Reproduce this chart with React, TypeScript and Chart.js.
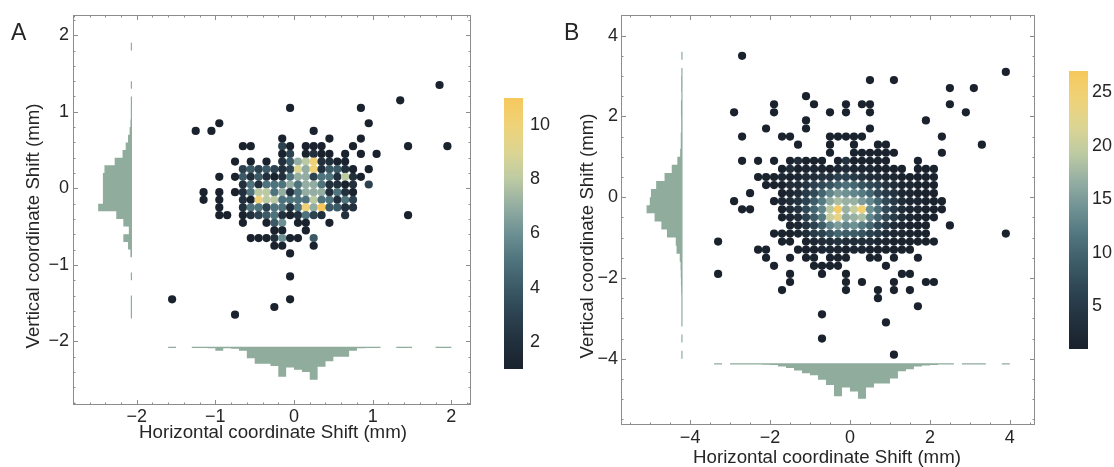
import React, { useEffect, useRef } from 'react';
import { Chart, registerables } from 'chart.js';

Chart.register(...registerables);

const FONT = '"Liberation Sans", Arial, Helvetica, sans-serif';
const TEXT_COLOR = '#262626';
const HIST_COLOR = '#8fac9d';
const FRAME_COLOR = '#8c8c8c';

// ---------------- colour map (count -> colour) ----------------
const cmapStops = [0, 0.1, 0.2, 0.3, 0.4, 0.5, 0.6, 0.7, 0.8, 0.9, 1];
const cmapColors = ['#19222d', '#22303d', '#2c4250', '#3b5a66', '#4f737c', '#6d9093', '#93ada2', '#bccaa3', '#dcd593', '#efd278', '#f6c85c'];

// ---------------- Panel A ----------------
const aCols = [-1.15, -1.05, -0.95, -0.85, -0.75, -0.65, -0.55, -0.45, -0.35, -0.25, -0.15, -0.05, 0.05, 0.15, 0.25, 0.35, 0.45, 0.55, 0.65, 0.75, 0.85, 0.95, 1.05];
const aRows = [0.65, 0.55, 0.45, 0.35, 0.25, 0.15, 0.05, -0.05, -0.15, -0.25, -0.35, -0.45, -0.55, -0.65, -0.75, -0.85];
const aCounts = [
  [0, 0, 0, 0, 0, 0, 0, 0, 0, 0, 1, 0, 0, 0, 0, 0, 1, 0, 0, 0, 1, 0, 0],
  [0, 0, 0, 0, 0, 1, 1, 0, 0, 0, 3, 1, 0, 1, 1, 1, 0, 0, 0, 1, 0, 0, 0],
  [0, 0, 0, 0, 0, 0, 0, 0, 0, 0, 1, 3, 0, 1, 2, 1, 1, 0, 1, 0, 1, 0, 1],
  [0, 0, 0, 0, 1, 0, 1, 0, 1, 0, 2, 4, 7, 8, 10, 2, 2, 1, 1, 0, 0, 0, 0],
  [0, 0, 0, 0, 0, 3, 4, 3, 4, 3, 2, 3, 9, 7, 10, 2, 4, 4, 2, 1, 0, 1, 0],
  [0, 0, 1, 0, 1, 4, 2, 4, 2, 1, 2, 5, 7, 7, 3, 5, 5, 2, 8, 2, 1, 0, 0],
  [0, 0, 0, 0, 0, 2, 5, 2, 5, 5, 5, 7, 5, 7, 7, 5, 2, 2, 1, 2, 0, 3, 0],
  [1, 0, 1, 0, 1, 2, 5, 8, 8, 5, 7, 2, 5, 7, 7, 7, 2, 5, 2, 1, 0, 0, 0],
  [1, 0, 1, 0, 0, 2, 1, 10, 8, 8, 5, 5, 5, 5, 8, 5, 5, 2, 5, 3, 0, 0, 0],
  [0, 0, 1, 0, 0, 2, 5, 5, 3, 5, 5, 2, 5, 10, 7, 11, 4, 4, 2, 2, 0, 0, 0],
  [0, 0, 1, 1, 0, 1, 2, 3, 4, 5, 2, 1, 2, 5, 3, 2, 0, 0, 2, 0, 0, 0, 0],
  [0, 0, 0, 0, 0, 1, 0, 0, 1, 4, 6, 0, 1, 1, 0, 0, 1, 0, 0, 0, 0, 0, 0],
  [0, 0, 0, 0, 0, 0, 0, 0, 0, 1, 1, 0, 0, 1, 0, 0, 0, 0, 0, 0, 0, 0, 0],
  [0, 0, 0, 0, 0, 0, 1, 1, 1, 2, 6, 1, 1, 0, 4, 0, 0, 0, 0, 0, 0, 0, 0],
  [0, 0, 0, 0, 0, 0, 0, 0, 0, 1, 1, 0, 0, 0, 1, 0, 0, 0, 0, 0, 0, 0, 0],
  [0, 0, 0, 0, 0, 0, 0, 0, 0, 0, 0, 1, 0, 0, 0, 0, 0, 0, 0, 0, 0, 0, 0],
];
// isolated cells: [x, y, count]
const aOutliers = [
  [1.85, 1.35, 1], [1.35, 1.15, 1], [-0.05, 1.05, 1], [0.85, 1.05, 1], [-0.95, 0.85, 1], [0.95, 0.85, 1],
  [-1.25, 0.75, 1], [-1.05, 0.75, 1], [0.25, 0.75, 1], [1.45, 0.55, 1], [1.95, 0.55, 1], [1.45, -0.35, 1],
  [-0.05, -1.15, 1], [-0.05, -1.45, 1], [-1.55, -1.45, 1], [-0.25, -1.55, 1], [-0.75, -1.65, 1],
];
const aHistLeftY = [1.85, 1.35, 1.15, 1.05, 0.95, 0.85, 0.75, 0.65, 0.55, 0.45, 0.35, 0.25, 0.15, 0.05, -0.05, -0.15, -0.25, -0.35, -0.45, -0.55, -0.65, -0.75, -0.85, -1.15, -1.45, -1.55, -1.65];
const aHistLeftLen = [0.015, 0.015, 0.015, 0.015, 0.015, 0.02, 0.03, 0.05, 0.08, 0.12, 0.22, 0.35, 0.37, 0.37, 0.37, 0.37, 0.43, 0.2, 0.11, 0.04, 0.11, 0.05, 0.02, 0.015, 0.015, 0.015, 0.015];
const aHistBottomX = [-1.55, -1.25, -1.15, -1.05, -0.95, -0.85, -0.75, -0.65, -0.55, -0.45, -0.35, -0.25, -0.15, -0.05, 0.05, 0.15, 0.25, 0.35, 0.45, 0.55, 0.65, 0.75, 0.85, 0.95, 1.05, 1.35, 1.45, 1.85, 1.95];
const aHistBottomLen = [0.015, 0.015, 0.015, 0.02, 0.05, 0.02, 0.025, 0.05, 0.15, 0.22, 0.22, 0.25, 0.39, 0.27, 0.3, 0.33, 0.43, 0.26, 0.19, 0.13, 0.13, 0.05, 0.02, 0.015, 0.015, 0.015, 0.015, 0.015, 0.015];
const aXTicks = [-2, -1, 0, 1, 2];
const aYTicks = [-2, -1, 0, 1, 2];
const aBarTicks = [2, 4, 6, 8, 10];

// ---------------- Panel B ----------------
const bCols = [-2.3, -2.1, -1.9, -1.7, -1.5, -1.3, -1.1, -0.9, -0.7, -0.5, -0.3, -0.1, 0.1, 0.3, 0.5, 0.7, 0.9, 1.1, 1.3, 1.5, 1.7, 1.9, 2.1, 2.3];
const bRows = [1.1, 0.9, 0.7, 0.5, 0.3, 0.1, -0.1, -0.3, -0.5, -0.7, -0.9, -1.1, -1.3, -1.5, -1.7];
const bCounts = [
  [0, 0, 0, 0, 0, 0, 0, 0, 0, 1, 0, 0, 1, 1, 1, 1, 1, 1, 0, 0, 0, 0, 0, 1],
  [1, 0, 1, 0, 1, 3, 1, 1, 1, 0, 1, 4, 1, 1, 1, 1, 1, 0, 0, 0, 1, 0, 0, 0],
  [0, 0, 0, 1, 3, 1, 2, 2, 2, 1, 2, 3, 2, 2, 2, 1, 1, 1, 1, 0, 1, 1, 1, 0],
  [1, 1, 1, 2, 1, 2, 3, 3, 4, 4, 6, 6, 5, 4, 3, 3, 2, 2, 1, 1, 1, 1, 1, 0],
  [0, 1, 1, 1, 3, 3, 4, 6, 7, 8, 10, 11, 10, 8, 7, 6, 4, 3, 2, 2, 1, 1, 1, 0],
  [0, 0, 0, 1, 2, 3, 5, 7, 10, 13, 15, 14, 13, 12, 10, 7, 5, 4, 2, 2, 1, 1, 1, 0],
  [0, 0, 1, 2, 3, 4, 6, 9, 12, 16, 18, 17, 17, 15, 13, 10, 7, 5, 3, 2, 2, 1, 1, 1],
  [0, 0, 0, 1, 3, 4, 7, 10, 13, 19, 26, 17, 20, 25, 14, 11, 7, 5, 3, 2, 2, 1, 1, 1],
  [0, 0, 0, 1, 2, 3, 6, 9, 12, 20, 23, 16, 17, 18, 13, 10, 7, 5, 3, 2, 1, 1, 1, 0],
  [0, 0, 0, 0, 1, 2, 4, 6, 9, 13, 15, 13, 14, 12, 10, 7, 5, 3, 2, 1, 1, 1, 0, 0],
  [0, 0, 1, 1, 1, 2, 3, 5, 6, 8, 10, 9, 9, 8, 6, 5, 3, 2, 2, 1, 1, 1, 0, 0],
  [0, 0, 0, 1, 1, 0, 1, 2, 3, 3, 4, 3, 3, 3, 3, 2, 2, 1, 1, 1, 1, 1, 1, 0],
  [1, 1, 0, 0, 0, 1, 1, 1, 2, 2, 2, 1, 2, 2, 1, 1, 1, 1, 1, 1, 0, 0, 0, 0],
  [0, 1, 0, 0, 1, 0, 1, 1, 0, 1, 1, 1, 0, 0, 1, 1, 0, 1, 0, 0, 1, 0, 0, 0],
  [0, 0, 1, 0, 0, 0, 0, 1, 1, 1, 1, 0, 0, 0, 0, 0, 1, 0, 0, 0, 0, 0, 0, 0],
];
const bOutliers = [
  [-2.7, 3.5, 1], [3.9, 3.1, 1], [0.5, 2.9, 1], [1.1, 2.9, 1], [2.5, 2.7, 1], [3.1, 2.7, 1], [-1.1, 2.5, 1],
  [-1.9, 2.3, 1], [-0.9, 2.3, 1], [-0.1, 2.3, 1], [0.3, 2.3, 1], [0.5, 2.3, 1], [2.5, 2.3, 1],
  [-2.9, 2.1, 1], [-1.9, 2.1, 1], [-0.5, 2.1, 1], [-0.1, 2.1, 1], [0.5, 2.1, 1], [2.9, 2.1, 1],
  [-1.1, 1.9, 1], [1.9, 1.9, 1], [-2.1, 1.7, 1], [-1.1, 1.7, 1], [0.5, 1.7, 1],
  [-2.7, 1.5, 1], [-1.7, 1.5, 1], [-1.5, 1.5, 1], [-0.5, 1.5, 1], [-0.3, 1.5, 1], [-0.1, 1.5, 1], [0.1, 1.5, 1], [0.3, 1.5, 1], [2.3, 1.5, 1],
  [-1.3, 1.3, 1], [-0.5, 1.3, 1], [0.1, 1.3, 1], [0.7, 1.3, 1], [0.9, 1.3, 1], [3.3, 1.3, 1],
  [-2.7, 0.9, 1], [-2.5, 0.1, 1], [-2.9, -0.1, 1], [-2.7, -0.3, 1], [-2.5, -0.3, 1], [2.5, -0.7, 1], [3.9, -0.9, 1],
  [-3.3, -1.1, 1], [-3.3, -1.9, 1], [-1.5, -1.9, 1], [-0.7, -1.9, 1], [-0.1, -1.9, 1], [1.3, -1.9, 1], [1.5, -1.9, 1],
  [-1.5, -2.1, 1], [-0.1, -2.1, 1], [0.3, -2.1, 1], [1.1, -2.1, 1], [1.9, -2.1, 1], [2.1, -2.1, 1],
  [-1.7, -2.3, 1], [-0.1, -2.3, 1], [0.7, -2.3, 1], [1.1, -2.3, 1], [1.5, -2.3, 1],
  [0.7, -2.5, 1], [1.7, -2.7, 1], [-0.7, -2.9, 1], [0.9, -3.1, 1], [-0.7, -3.5, 1], [1.1, -3.9, 1],
];
const bHistLeftY = [3.5, 3.1, 2.9, 2.7, 2.5, 2.3, 2.1, 1.9, 1.7, 1.5, 1.3, 1.1, 0.9, 0.7, 0.5, 0.3, 0.1, -0.1, -0.3, -0.5, -0.7, -0.9, -1.1, -1.3, -1.5, -1.7, -1.9, -2.1, -2.3, -2.5, -2.7, -2.9, -3.1, -3.5, -3.9];
const bHistLeftLen = [0.03, 0.03, 0.035, 0.035, 0.03, 0.04, 0.04, 0.035, 0.035, 0.045, 0.045, 0.06, 0.13, 0.27, 0.45, 0.66, 0.79, 0.82, 0.9, 0.7, 0.53, 0.39, 0.17, 0.15, 0.07, 0.05, 0.045, 0.04, 0.035, 0.03, 0.03, 0.03, 0.03, 0.03, 0.03];
const bHistBottomX = [-3.3, -2.9, -2.7, -2.5, -2.3, -2.1, -1.9, -1.7, -1.5, -1.3, -1.1, -0.9, -0.7, -0.5, -0.3, -0.1, 0.1, 0.3, 0.5, 0.7, 0.9, 1.1, 1.3, 1.5, 1.7, 1.9, 2.1, 2.3, 2.5, 2.9, 3.1, 3.3, 3.9];
const bHistBottomLen = [0.03, 0.03, 0.035, 0.035, 0.035, 0.04, 0.045, 0.08, 0.12, 0.18, 0.25, 0.3, 0.41, 0.54, 0.82, 0.6, 0.7, 0.88, 0.6, 0.5, 0.5, 0.38, 0.2, 0.15, 0.08, 0.06, 0.045, 0.035, 0.035, 0.03, 0.03, 0.03, 0.03];
const bXTicks = [-4, -2, 0, 2, 4];
const bYTicks = [-4, -2, 0, 2, 4];
const bBarTicks = [5, 10, 15, 20, 25];

// ---------------- helpers ----------------
function hexToRgb(h: string) {
  const n = parseInt(h.slice(1), 16);
  return [(n >> 16) & 255, (n >> 8) & 255, n & 255];
}
function colorAt(t: number) {
  const u = Math.max(0, Math.min(1, t));
  let i = 0;
  while (i < cmapStops.length - 2 && u > cmapStops[i + 1]) i++;
  const f = (u - cmapStops[i]) / (cmapStops[i + 1] - cmapStops[i]);
  const a = hexToRgb(cmapColors[i]);
  const b = hexToRgb(cmapColors[i + 1]);
  const c = a.map((v, k) => Math.round(v + (b[k] - v) * f));
  return `rgb(${c[0]},${c[1]},${c[2]})`;
}
function gridPoints(cols: number[], rows: number[], counts: number[][], outliers: number[][]) {
  const pts: any[] = [];
  rows.forEach((y, r) => counts[r].forEach((c, i) => { if (c > 0) pts.push({ x: cols[i], y, c }); }));
  outliers.forEach(([x, y, c]) => pts.push({ x, y, c }));
  return pts;
}
function leftHist(base: number, centers: number[], lens: number[], w: number) {
  const pts: any[] = [];
  centers.forEach((c, i) => {
    const t = c + w / 2, b = c - w / 2, L = lens[i];
    pts.push({ x: base, y: t }, { x: base - L, y: t }, { x: base - L, y: b }, { x: base, y: b });
  });
  return pts;
}
function bottomHist(base: number, centers: number[], lens: number[], w: number) {
  const pts: any[] = [];
  centers.forEach((c, i) => {
    const l = c - w / 2, r = c + w / 2, L = lens[i];
    pts.push({ x: l, y: base }, { x: l, y: base - L }, { x: r, y: base - L }, { x: r, y: base });
  });
  return pts;
}
const fmt = (v: any) => (Number(v) < 0 ? '\u2212' + Math.abs(Number(v)) : String(v));

const frameTicksPlugin = {
  id: 'frameTicks',
  afterDatasetsDraw(chart: any, _args: any, opts: any) {
    const { ctx, chartArea } = chart;
    const { left, right, top, bottom } = chartArea;
    const xs = chart.scales.x;
    const ys = chart.scales.y;
    const each = (min: number, max: number, step: number, fn: (v: number) => void) => {
      const s = Math.ceil(min / step - 1e-9);
      const e = Math.floor(max / step + 1e-9);
      for (let k = s; k <= e; k++) fn(k * step);
    };
    const isMajor = (v: number) => Math.abs(v / opts.major - Math.round(v / opts.major)) < 1e-6;
    ctx.save();
    ctx.strokeStyle = FRAME_COLOR;
    ctx.lineWidth = 1;
    ctx.beginPath();
    each(xs.min, xs.max, opts.minor, (v) => {
      const len = isMajor(v) ? 5 : 2.5;
      const px = Math.round(xs.getPixelForValue(v)) + 0.5;
      ctx.moveTo(px, bottom); ctx.lineTo(px, bottom - len);
      ctx.moveTo(px, top); ctx.lineTo(px, top + len);
    });
    each(ys.min, ys.max, opts.minor, (v) => {
      const len = isMajor(v) ? 5 : 2.5;
      const py = Math.round(ys.getPixelForValue(v)) + 0.5;
      ctx.moveTo(left, py); ctx.lineTo(left + len, py);
      ctx.moveTo(right, py); ctx.lineTo(right - len, py);
    });
    ctx.stroke();
    ctx.strokeRect(left + 0.5, top + 0.5, right - left - 1, bottom - top - 1);
    ctx.restore();
  },
};

const gradientPlugin = {
  id: 'cbarGradient',
  beforeDatasetsDraw(chart: any) {
    const { ctx, chartArea } = chart;
    const { left, right, top, bottom } = chartArea;
    const g = ctx.createLinearGradient(0, bottom, 0, top);
    cmapStops.forEach((s, i) => g.addColorStop(s, cmapColors[i]));
    ctx.save();
    ctx.fillStyle = g;
    ctx.fillRect(left, top, right - left, bottom - top);
    ctx.restore();
  },
};

function makeMain(canvas: HTMLCanvasElement, p: any) {
  const pts = gridPoints(p.cols, p.rows, p.counts, p.outliers);
  const tickFont = { family: FONT, size: 18 };
  return new Chart(canvas, {
    type: 'line',
    data: {
      datasets: [
        {
          label: 'cell counts',
          data: pts,
          showLine: false,
          pointStyle: 'circle',
          pointRadius: 4.1,
          pointHoverRadius: 4.1,
          pointBorderWidth: 0,
          pointBorderColor: 'rgba(0,0,0,0)',
          pointBackgroundColor: pts.map((d) => colorAt((d.c - p.cMin) / (p.cMax - p.cMin))),
          order: 0,
        } as any,
        {
          label: 'vertical histogram',
          data: leftHist(p.leftBase, p.leftY, p.leftLen, p.binW),
          showLine: true,
          borderWidth: 0,
          borderColor: 'rgba(0,0,0,0)',
          backgroundColor: HIST_COLOR,
          fill: 'shape',
          pointRadius: 0,
          order: 1,
        } as any,
        {
          label: 'horizontal histogram',
          data: bottomHist(p.bottomBase, p.bottomX, p.bottomLen, p.binW),
          showLine: true,
          borderWidth: 0,
          borderColor: 'rgba(0,0,0,0)',
          backgroundColor: HIST_COLOR,
          fill: 'shape',
          pointRadius: 0,
          order: 2,
        } as any,
      ],
    },
    options: {
      responsive: false,
      animation: false,
      events: [],
      layout: { padding: { left: 0, top: 15, right: p.padRight, bottom: 0 } },
      plugins: {
        legend: { display: false },
        tooltip: { enabled: false },
        frameTicks: { major: p.major, minor: p.minor },
      } as any,
      scales: {
        x: {
          type: 'linear',
          min: p.xMin,
          max: p.xMax,
          grid: { display: false, drawTicks: false },
          border: { display: false },
          ticks: { font: tickFont, color: TEXT_COLOR, padding: p.xTickPad, autoSkip: false, maxRotation: 0, callback: fmt },
          afterBuildTicks: (s: any) => { s.ticks = p.xTicks.map((v: number) => ({ value: v })); },
          afterFit: (s: any) => { s.height = p.xHeight; },
        },
        y: {
          type: 'linear',
          min: p.yMin,
          max: p.yMax,
          grid: { display: false, drawTicks: false },
          border: { display: false },
          ticks: { font: tickFont, color: TEXT_COLOR, padding: p.yTickPad, autoSkip: false, callback: fmt },
          afterBuildTicks: (s: any) => { s.ticks = p.yTicks.map((v: number) => ({ value: v })); },
          afterFit: (s: any) => { s.width = p.yWidth; },
        },
      } as any,
    },
    plugins: [frameTicksPlugin],
  } as any);
}

function makeBar(canvas: HTMLCanvasElement, p: any) {
  return new Chart(canvas, {
    type: 'scatter',
    data: { datasets: [] },
    options: {
      responsive: false,
      animation: false,
      events: [],
      layout: { padding: p.padding },
      plugins: { legend: { display: false }, tooltip: { enabled: false } },
      scales: {
        x: { type: 'linear', display: false, min: 0, max: 1 },
        y: {
          type: 'linear',
          position: 'right',
          min: p.min,
          max: p.max,
          grid: { display: false, drawTicks: false },
          border: { display: false },
          ticks: { font: { family: FONT, size: 18 }, color: TEXT_COLOR, padding: p.tickPad, autoSkip: false },
          afterBuildTicks: (s: any) => { s.ticks = p.ticks.map((v: number) => ({ value: v })); },
          afterFit: (s: any) => { s.width = p.axisWidth; },
        },
      } as any,
    },
    plugins: [gradientPlugin],
  } as any);
}

const panelA = {
  cols: aCols, rows: aRows, counts: aCounts, outliers: aOutliers, cMin: 1, cMax: 11,
  leftBase: -2.06, leftY: aHistLeftY, leftLen: aHistLeftLen,
  bottomBase: -2.07, bottomX: aHistBottomX, bottomLen: aHistBottomLen, binW: 0.1,
  xMin: -2.81, xMax: 2.25, yMin: -2.83, yMax: 2.264, xTicks: aXTicks, yTicks: aYTicks,
  major: 1, minor: 0.2, padRight: 86, yWidth: 73, xHeight: 62, xTickPad: 1, yTickPad: 4,
};
const panelB = {
  cols: bCols, rows: bRows, counts: bCounts, outliers: bOutliers, cMin: 1, cMax: 27,
  leftBase: -4.19, leftY: bHistLeftY, leftLen: bHistLeftLen,
  bottomBase: -4.11, bottomX: bHistBottomX, bottomLen: bHistBottomLen, binW: 0.2,
  xMin: -5.73, xMax: 4.63, yMin: -5.64, yMax: 4.51, xTicks: bXTicks, yTicks: bYTicks,
  major: 2, minor: 0.5, padRight: 79, yWidth: 64, xHeight: 42, xTickPad: 2, yTickPad: 3,
};

const textBase: any = { position: 'absolute', fontFamily: FONT, color: TEXT_COLOR, whiteSpace: 'nowrap', lineHeight: 1 };

export default function App() {
  const aRef = useRef<HTMLCanvasElement>(null);
  const aBarRef = useRef<HTMLCanvasElement>(null);
  const bRef = useRef<HTMLCanvasElement>(null);
  const bBarRef = useRef<HTMLCanvasElement>(null);

  useEffect(() => {
    const charts = [
      makeMain(aRef.current as HTMLCanvasElement, panelA),
      makeBar(aBarRef.current as HTMLCanvasElement, { min: 1, max: 11, ticks: aBarTicks, tickPad: 7, axisWidth: 34, padding: { left: 14, top: 18, right: 0, bottom: 21 } }),
      makeMain(bRef.current as HTMLCanvasElement, panelB),
      makeBar(bBarRef.current as HTMLCanvasElement, { min: 1, max: 27, ticks: bBarTicks, tickPad: 4, axisWidth: 26, padding: { left: 14, top: 16, right: 0, bottom: 16 } }),
    ];
    return () => charts.forEach((c) => c.destroy());
  }, []);

  return (
    <div style={{ position: 'fixed', left: 0, top: 0, width: 1114, height: 467, background: '#ffffff', overflow: 'hidden' }}>
      <canvas ref={aRef} width={557} height={467} style={{ position: 'absolute', left: 0, top: 0, width: 557, height: 467 }} />
      <canvas ref={aBarRef} width={67} height={310} style={{ position: 'absolute', left: 490, top: 80, width: 67, height: 310 }} />
      <canvas ref={bRef} width={557} height={467} style={{ position: 'absolute', left: 557, top: 0, width: 557, height: 467 }} />
      <canvas ref={bBarRef} width={59} height={310} style={{ position: 'absolute', left: 1055, top: 55, width: 59, height: 310 }} />

      <div style={{ ...textBase, left: 11, top: 21, fontSize: 23 }}>A</div>
      <div style={{ ...textBase, left: 564, top: 21, fontSize: 23 }}>B</div>

      <div style={{ ...textBase, left: 273, top: 423, fontSize: 18.7, transform: 'translateX(-50%)' }}>Horizontal coordinate Shift (mm)</div>
      <div style={{ ...textBase, left: 827, top: 448, fontSize: 18.7, transform: 'translateX(-50%)' }}>Horizontal coordinate Shift (mm)</div>

      <div style={{ ...textBase, left: 32.5, top: 226, fontSize: 18.7, transform: 'translate(-50%, -50%) rotate(-90deg)' }}>Vertical coordinate Shift (mm)</div>
      <div style={{ ...textBase, left: 586.5, top: 236, fontSize: 18.7, transform: 'translate(-50%, -50%) rotate(-90deg)' }}>Vertical coordinate Shift (mm)</div>
    </div>
  );
}
